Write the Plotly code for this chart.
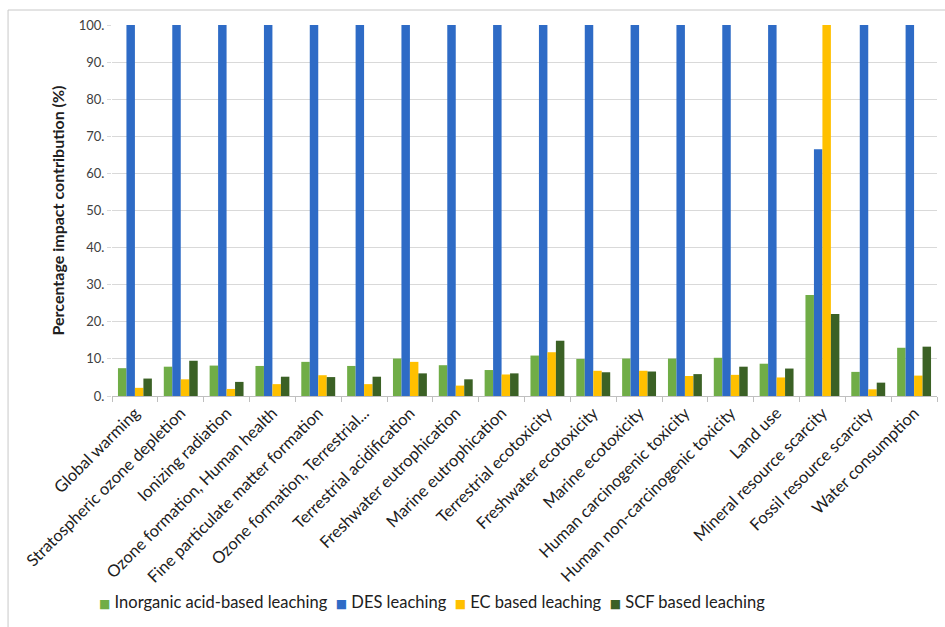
import plotly.graph_objects as go

categories = [
    "Global warming", "Stratospheric ozone depletion", "Ionizing radiation",
    "Ozone formation, Human health", "Fine particulate matter formation",
    "Ozone formation, Terrestrial...", "Terrestrial acidification",
    "Freshwater eutrophication", "Marine eutrophication", "Terrestrial ecotoxicity",
    "Freshwater ecotoxicity", "Marine ecotoxicity", "Human carcinogenic toxicity",
    "Human non-carcinogenic toxicity", "Land use", "Mineral resource scarcity",
    "Fossil resource scarcity", "Water consumption",
]

inorganic = [7.5, 7.9, 8.2, 8.1, 9.2, 8.1, 10.1, 8.3, 7.0, 10.9, 10.0, 10.1, 10.1, 10.3, 8.7, 27.2, 6.5, 13.0]
des = [100, 100, 100, 100, 100, 100, 100, 100, 100, 100, 100, 100, 100, 100, 100, 66.5, 100, 100]
ec = [2.2, 4.5, 1.9, 3.2, 5.6, 3.2, 9.2, 2.8, 5.8, 11.8, 6.8, 6.8, 5.4, 5.7, 5.0, 100, 1.8, 5.5]
scf = [4.7, 9.5, 3.8, 5.2, 5.1, 5.2, 6.1, 4.5, 6.1, 14.9, 6.4, 6.6, 5.9, 7.9, 7.4, 22.1, 3.6, 13.3]

series = [
    ("Inorganic acid-based leaching", inorganic, "#70ad47"),
    ("DES leaching", des, "#2e6bc6"),
    ("EC based leaching", ec, "#ffc000"),
    ("SCF based leaching", scf, "#3b6125"),
]

y_ticks = [0, 10, 20, 30, 40, 50, 60, 70, 80, 90, 100]
y_tick_labels = ["0.", "10.", "20.", "30.", "40.", "50.", "60.", "70.", "80.", "90.", "100."]

fig = go.Figure()
for name, vals, color in series:
    fig.add_trace(go.Bar(x=categories, y=vals, name=name,
                         marker=dict(color=color, line=dict(width=0))))

font_family = "Lato, 'Open Sans', sans-serif"

# Compact legend row: a coloured square glyph right before each series name
legend_parts = []
for name, _, color in series:
    legend_parts.append(
        f"<span style='color:{color};font-size:12px;font-family:DejaVu Sans'>■</span> {name}"
    )
legend_text = "&nbsp;&nbsp;".join(legend_parts)

fig.update_layout(
    width=945, height=627,
    margin=dict(l=112, r=8, t=25, b=231),
    paper_bgcolor="white", plot_bgcolor="white",
    barmode="group", bargap=0.26, bargroupgap=0,
    font=dict(family=font_family, color="#404040"),
    showlegend=False,
    xaxis=dict(
        tickangle=-45, tickfont=dict(size=16.5, color="#202020"),
        tickson="boundaries", ticks="outside", ticklen=5, tickcolor="#bfbfbf",
        showline=True, linecolor="#bfbfbf", linewidth=1, showgrid=False,
    ),
    yaxis=dict(
        range=[0, 100], tickvals=y_ticks, ticktext=y_tick_labels,
        tickfont=dict(size=13, color="#404040"),
        showgrid=True, gridcolor="#d9d9d9", gridwidth=1, zeroline=False,
        ticks="outside", ticklen=4, tickcolor="#d9d9d9",
        title=dict(text="<b>Percentage impact contribution (%)</b>",
                   font=dict(size=16, color="#202020"), standoff=10),
    ),
    annotations=[dict(
        text=legend_text, xref="paper", yref="paper",
        x=-0.018, y=-0.555, xanchor="left", yanchor="middle",
        showarrow=False, font=dict(size=16.5, color="#202020", family=font_family),
    )],
    shapes=[dict(type="rect", xref="paper", yref="paper",
                 x0=-0.126, x1=1.02, y0=-0.65, y1=1.0404,
                 line=dict(color="#c8c8c8", width=1), fillcolor="rgba(0,0,0,0)",
                 layer="below")],
)

fig.write_html("out.html")
